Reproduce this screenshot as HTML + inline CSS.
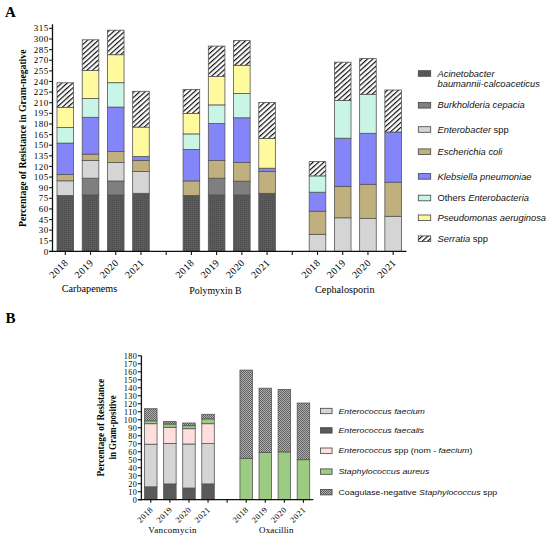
<!DOCTYPE html>
<html><head><meta charset="utf-8"><style>
html,body{margin:0;padding:0;background:#fff;}
svg{display:block;}
</style></head><body>
<svg width="550" height="539" viewBox="0 0 550 539">
<rect width="550" height="539" fill="#fff"/>
<defs>
<pattern id="hatch" patternUnits="userSpaceOnUse" width="3.66" height="3.66" patternTransform="rotate(-42)"><rect width="3.66" height="3.66" fill="#fff"/><rect y="0" width="3.66" height="1.2" fill="#111"/></pattern>
<pattern id="dots" patternUnits="userSpaceOnUse" width="2" height="2"><rect width="2" height="2" fill="#5b5b5b"/><rect width="1" height="1" fill="#4b4b4b"/></pattern>
<pattern id="checker" patternUnits="userSpaceOnUse" width="2" height="2"><rect width="2" height="2" fill="#b0b0b0"/><rect width="1" height="1" fill="#606060"/><rect x="1" y="1" width="1" height="1" fill="#606060"/></pattern>
</defs>
<rect x="57.00" y="195.50" width="16.60" height="55.90" fill="url(#dots)" stroke="#555" stroke-width="0.8"/>
<rect x="57.00" y="180.80" width="16.60" height="14.70" fill="#d5d5d5" stroke="#555" stroke-width="0.8"/>
<rect x="57.00" y="174.50" width="16.60" height="6.30" fill="#bfb07d" stroke="#555" stroke-width="0.8"/>
<rect x="57.00" y="143.10" width="16.60" height="31.40" fill="#8585fa" stroke="#555" stroke-width="0.8"/>
<rect x="57.00" y="127.60" width="16.60" height="15.50" fill="#c8f5e6" stroke="#555" stroke-width="0.8"/>
<rect x="57.00" y="107.30" width="16.60" height="20.30" fill="#fffa9e" stroke="#555" stroke-width="0.8"/>
<rect x="57.00" y="82.80" width="16.60" height="24.50" fill="url(#hatch)" stroke="#555" stroke-width="0.8"/>
<rect x="82.22" y="194.90" width="16.60" height="56.50" fill="url(#dots)" stroke="#555" stroke-width="0.8"/>
<rect x="82.22" y="178.20" width="16.60" height="16.70" fill="#7f7f7f" stroke="#555" stroke-width="0.8"/>
<rect x="82.22" y="160.50" width="16.60" height="17.70" fill="#d5d5d5" stroke="#555" stroke-width="0.8"/>
<rect x="82.22" y="154.10" width="16.60" height="6.40" fill="#bfb07d" stroke="#555" stroke-width="0.8"/>
<rect x="82.22" y="117.30" width="16.60" height="36.80" fill="#8585fa" stroke="#555" stroke-width="0.8"/>
<rect x="82.22" y="98.50" width="16.60" height="18.80" fill="#c8f5e6" stroke="#555" stroke-width="0.8"/>
<rect x="82.22" y="70.60" width="16.60" height="27.90" fill="#fffa9e" stroke="#555" stroke-width="0.8"/>
<rect x="82.22" y="39.80" width="16.60" height="30.80" fill="url(#hatch)" stroke="#555" stroke-width="0.8"/>
<rect x="107.44" y="194.90" width="16.60" height="56.50" fill="url(#dots)" stroke="#555" stroke-width="0.8"/>
<rect x="107.44" y="181.00" width="16.60" height="13.90" fill="#7f7f7f" stroke="#555" stroke-width="0.8"/>
<rect x="107.44" y="162.50" width="16.60" height="18.50" fill="#d5d5d5" stroke="#555" stroke-width="0.8"/>
<rect x="107.44" y="151.60" width="16.60" height="10.90" fill="#bfb07d" stroke="#555" stroke-width="0.8"/>
<rect x="107.44" y="107.10" width="16.60" height="44.50" fill="#8585fa" stroke="#555" stroke-width="0.8"/>
<rect x="107.44" y="82.70" width="16.60" height="24.40" fill="#c8f5e6" stroke="#555" stroke-width="0.8"/>
<rect x="107.44" y="54.70" width="16.60" height="28.00" fill="#fffa9e" stroke="#555" stroke-width="0.8"/>
<rect x="107.44" y="30.20" width="16.60" height="24.50" fill="url(#hatch)" stroke="#555" stroke-width="0.8"/>
<rect x="132.66" y="193.30" width="16.60" height="58.10" fill="url(#dots)" stroke="#555" stroke-width="0.8"/>
<rect x="132.66" y="171.40" width="16.60" height="21.90" fill="#d5d5d5" stroke="#555" stroke-width="0.8"/>
<rect x="132.66" y="160.50" width="16.60" height="10.90" fill="#bfb07d" stroke="#555" stroke-width="0.8"/>
<rect x="132.66" y="156.40" width="16.60" height="4.10" fill="#8585fa" stroke="#555" stroke-width="0.8"/>
<rect x="132.66" y="127.10" width="16.60" height="29.30" fill="#fffa9e" stroke="#555" stroke-width="0.8"/>
<rect x="132.66" y="91.30" width="16.60" height="35.80" fill="url(#hatch)" stroke="#555" stroke-width="0.8"/>
<rect x="183.10" y="195.40" width="16.60" height="56.00" fill="url(#dots)" stroke="#555" stroke-width="0.8"/>
<rect x="183.10" y="180.90" width="16.60" height="14.50" fill="#bfb07d" stroke="#555" stroke-width="0.8"/>
<rect x="183.10" y="149.40" width="16.60" height="31.50" fill="#8585fa" stroke="#555" stroke-width="0.8"/>
<rect x="183.10" y="133.90" width="16.60" height="15.50" fill="#c8f5e6" stroke="#555" stroke-width="0.8"/>
<rect x="183.10" y="113.50" width="16.60" height="20.40" fill="#fffa9e" stroke="#555" stroke-width="0.8"/>
<rect x="183.10" y="89.40" width="16.60" height="24.10" fill="url(#hatch)" stroke="#555" stroke-width="0.8"/>
<rect x="208.32" y="194.90" width="16.60" height="56.50" fill="url(#dots)" stroke="#555" stroke-width="0.8"/>
<rect x="208.32" y="178.20" width="16.60" height="16.70" fill="#7f7f7f" stroke="#555" stroke-width="0.8"/>
<rect x="208.32" y="160.60" width="16.60" height="17.60" fill="#bfb07d" stroke="#555" stroke-width="0.8"/>
<rect x="208.32" y="123.50" width="16.60" height="37.10" fill="#8585fa" stroke="#555" stroke-width="0.8"/>
<rect x="208.32" y="104.90" width="16.60" height="18.60" fill="#c8f5e6" stroke="#555" stroke-width="0.8"/>
<rect x="208.32" y="76.50" width="16.60" height="28.40" fill="#fffa9e" stroke="#555" stroke-width="0.8"/>
<rect x="208.32" y="46.10" width="16.60" height="30.40" fill="url(#hatch)" stroke="#555" stroke-width="0.8"/>
<rect x="233.54" y="194.90" width="16.60" height="56.50" fill="url(#dots)" stroke="#555" stroke-width="0.8"/>
<rect x="233.54" y="181.20" width="16.60" height="13.70" fill="#7f7f7f" stroke="#555" stroke-width="0.8"/>
<rect x="233.54" y="162.50" width="16.60" height="18.70" fill="#bfb07d" stroke="#555" stroke-width="0.8"/>
<rect x="233.54" y="117.80" width="16.60" height="44.70" fill="#8585fa" stroke="#555" stroke-width="0.8"/>
<rect x="233.54" y="93.50" width="16.60" height="24.30" fill="#c8f5e6" stroke="#555" stroke-width="0.8"/>
<rect x="233.54" y="65.30" width="16.60" height="28.20" fill="#fffa9e" stroke="#555" stroke-width="0.8"/>
<rect x="233.54" y="40.60" width="16.60" height="24.70" fill="url(#hatch)" stroke="#555" stroke-width="0.8"/>
<rect x="258.76" y="193.30" width="16.60" height="58.10" fill="url(#dots)" stroke="#555" stroke-width="0.8"/>
<rect x="258.76" y="171.40" width="16.60" height="21.90" fill="#bfb07d" stroke="#555" stroke-width="0.8"/>
<rect x="258.76" y="168.20" width="16.60" height="3.20" fill="#8585fa" stroke="#555" stroke-width="0.8"/>
<rect x="258.76" y="138.40" width="16.60" height="29.80" fill="#fffa9e" stroke="#555" stroke-width="0.8"/>
<rect x="258.76" y="102.50" width="16.60" height="35.90" fill="url(#hatch)" stroke="#555" stroke-width="0.8"/>
<rect x="309.20" y="234.30" width="16.60" height="17.10" fill="#d5d5d5" stroke="#555" stroke-width="0.8"/>
<rect x="309.20" y="211.20" width="16.60" height="23.10" fill="#bfb07d" stroke="#555" stroke-width="0.8"/>
<rect x="309.20" y="192.20" width="16.60" height="19.00" fill="#8585fa" stroke="#555" stroke-width="0.8"/>
<rect x="309.20" y="175.90" width="16.60" height="16.30" fill="#c8f5e6" stroke="#555" stroke-width="0.8"/>
<rect x="309.20" y="161.60" width="16.60" height="14.30" fill="url(#hatch)" stroke="#555" stroke-width="0.8"/>
<rect x="334.42" y="217.80" width="16.60" height="33.60" fill="#d5d5d5" stroke="#555" stroke-width="0.8"/>
<rect x="334.42" y="186.30" width="16.60" height="31.50" fill="#bfb07d" stroke="#555" stroke-width="0.8"/>
<rect x="334.42" y="138.20" width="16.60" height="48.10" fill="#8585fa" stroke="#555" stroke-width="0.8"/>
<rect x="334.42" y="100.40" width="16.60" height="37.80" fill="#c8f5e6" stroke="#555" stroke-width="0.8"/>
<rect x="334.42" y="62.20" width="16.60" height="38.20" fill="url(#hatch)" stroke="#555" stroke-width="0.8"/>
<rect x="359.64" y="218.60" width="16.60" height="32.80" fill="#d5d5d5" stroke="#555" stroke-width="0.8"/>
<rect x="359.64" y="184.30" width="16.60" height="34.30" fill="#bfb07d" stroke="#555" stroke-width="0.8"/>
<rect x="359.64" y="133.30" width="16.60" height="51.00" fill="#8585fa" stroke="#555" stroke-width="0.8"/>
<rect x="359.64" y="94.30" width="16.60" height="39.00" fill="#c8f5e6" stroke="#555" stroke-width="0.8"/>
<rect x="359.64" y="58.60" width="16.60" height="35.70" fill="url(#hatch)" stroke="#555" stroke-width="0.8"/>
<rect x="384.86" y="216.30" width="16.60" height="35.10" fill="#d5d5d5" stroke="#555" stroke-width="0.8"/>
<rect x="384.86" y="182.20" width="16.60" height="34.10" fill="#bfb07d" stroke="#555" stroke-width="0.8"/>
<rect x="384.86" y="132.00" width="16.60" height="50.20" fill="#8585fa" stroke="#555" stroke-width="0.8"/>
<rect x="384.86" y="90.00" width="16.60" height="42.00" fill="url(#hatch)" stroke="#555" stroke-width="0.8"/>
<line x1="52.50" y1="24.30" x2="52.50" y2="252.00" stroke="#111" stroke-width="1.3"/>
<line x1="49.00" y1="251.40" x2="406.50" y2="251.40" stroke="#111" stroke-width="1.3"/>
<line x1="49.20" y1="251.40" x2="52.50" y2="251.40" stroke="#111" stroke-width="1.1"/>
<text x="48.60" y="254.50" font-family="Liberation Serif" font-size="9" font-weight="normal" font-style="normal" text-anchor="end" fill="#000" letter-spacing="0.45">0</text>
<line x1="49.20" y1="240.78" x2="52.50" y2="240.78" stroke="#111" stroke-width="1.1"/>
<text x="48.60" y="243.88" font-family="Liberation Serif" font-size="9" font-weight="normal" font-style="normal" text-anchor="end" fill="#000" letter-spacing="0.45">15</text>
<line x1="49.20" y1="230.16" x2="52.50" y2="230.16" stroke="#111" stroke-width="1.1"/>
<text x="48.60" y="233.26" font-family="Liberation Serif" font-size="9" font-weight="normal" font-style="normal" text-anchor="end" fill="#000" letter-spacing="0.45">30</text>
<line x1="49.20" y1="219.54" x2="52.50" y2="219.54" stroke="#111" stroke-width="1.1"/>
<text x="48.60" y="222.64" font-family="Liberation Serif" font-size="9" font-weight="normal" font-style="normal" text-anchor="end" fill="#000" letter-spacing="0.45">45</text>
<line x1="49.20" y1="208.92" x2="52.50" y2="208.92" stroke="#111" stroke-width="1.1"/>
<text x="48.60" y="212.02" font-family="Liberation Serif" font-size="9" font-weight="normal" font-style="normal" text-anchor="end" fill="#000" letter-spacing="0.45">60</text>
<line x1="49.20" y1="198.30" x2="52.50" y2="198.30" stroke="#111" stroke-width="1.1"/>
<text x="48.60" y="201.40" font-family="Liberation Serif" font-size="9" font-weight="normal" font-style="normal" text-anchor="end" fill="#000" letter-spacing="0.45">75</text>
<line x1="49.20" y1="187.68" x2="52.50" y2="187.68" stroke="#111" stroke-width="1.1"/>
<text x="48.60" y="190.78" font-family="Liberation Serif" font-size="9" font-weight="normal" font-style="normal" text-anchor="end" fill="#000" letter-spacing="0.45">90</text>
<line x1="49.20" y1="177.06" x2="52.50" y2="177.06" stroke="#111" stroke-width="1.1"/>
<text x="48.60" y="180.16" font-family="Liberation Serif" font-size="9" font-weight="normal" font-style="normal" text-anchor="end" fill="#000" letter-spacing="0.45">105</text>
<line x1="49.20" y1="166.44" x2="52.50" y2="166.44" stroke="#111" stroke-width="1.1"/>
<text x="48.60" y="169.54" font-family="Liberation Serif" font-size="9" font-weight="normal" font-style="normal" text-anchor="end" fill="#000" letter-spacing="0.45">120</text>
<line x1="49.20" y1="155.82" x2="52.50" y2="155.82" stroke="#111" stroke-width="1.1"/>
<text x="48.60" y="158.92" font-family="Liberation Serif" font-size="9" font-weight="normal" font-style="normal" text-anchor="end" fill="#000" letter-spacing="0.45">135</text>
<line x1="49.20" y1="145.20" x2="52.50" y2="145.20" stroke="#111" stroke-width="1.1"/>
<text x="48.60" y="148.30" font-family="Liberation Serif" font-size="9" font-weight="normal" font-style="normal" text-anchor="end" fill="#000" letter-spacing="0.45">150</text>
<line x1="49.20" y1="134.58" x2="52.50" y2="134.58" stroke="#111" stroke-width="1.1"/>
<text x="48.60" y="137.68" font-family="Liberation Serif" font-size="9" font-weight="normal" font-style="normal" text-anchor="end" fill="#000" letter-spacing="0.45">165</text>
<line x1="49.20" y1="123.96" x2="52.50" y2="123.96" stroke="#111" stroke-width="1.1"/>
<text x="48.60" y="127.06" font-family="Liberation Serif" font-size="9" font-weight="normal" font-style="normal" text-anchor="end" fill="#000" letter-spacing="0.45">180</text>
<line x1="49.20" y1="113.34" x2="52.50" y2="113.34" stroke="#111" stroke-width="1.1"/>
<text x="48.60" y="116.44" font-family="Liberation Serif" font-size="9" font-weight="normal" font-style="normal" text-anchor="end" fill="#000" letter-spacing="0.45">195</text>
<line x1="49.20" y1="102.72" x2="52.50" y2="102.72" stroke="#111" stroke-width="1.1"/>
<text x="48.60" y="105.82" font-family="Liberation Serif" font-size="9" font-weight="normal" font-style="normal" text-anchor="end" fill="#000" letter-spacing="0.45">210</text>
<line x1="49.20" y1="92.10" x2="52.50" y2="92.10" stroke="#111" stroke-width="1.1"/>
<text x="48.60" y="95.20" font-family="Liberation Serif" font-size="9" font-weight="normal" font-style="normal" text-anchor="end" fill="#000" letter-spacing="0.45">225</text>
<line x1="49.20" y1="81.48" x2="52.50" y2="81.48" stroke="#111" stroke-width="1.1"/>
<text x="48.60" y="84.58" font-family="Liberation Serif" font-size="9" font-weight="normal" font-style="normal" text-anchor="end" fill="#000" letter-spacing="0.45">240</text>
<line x1="49.20" y1="70.86" x2="52.50" y2="70.86" stroke="#111" stroke-width="1.1"/>
<text x="48.60" y="73.96" font-family="Liberation Serif" font-size="9" font-weight="normal" font-style="normal" text-anchor="end" fill="#000" letter-spacing="0.45">255</text>
<line x1="49.20" y1="60.24" x2="52.50" y2="60.24" stroke="#111" stroke-width="1.1"/>
<text x="48.60" y="63.34" font-family="Liberation Serif" font-size="9" font-weight="normal" font-style="normal" text-anchor="end" fill="#000" letter-spacing="0.45">270</text>
<line x1="49.20" y1="49.62" x2="52.50" y2="49.62" stroke="#111" stroke-width="1.1"/>
<text x="48.60" y="52.72" font-family="Liberation Serif" font-size="9" font-weight="normal" font-style="normal" text-anchor="end" fill="#000" letter-spacing="0.45">285</text>
<line x1="49.20" y1="39.00" x2="52.50" y2="39.00" stroke="#111" stroke-width="1.1"/>
<text x="48.60" y="42.10" font-family="Liberation Serif" font-size="9" font-weight="normal" font-style="normal" text-anchor="end" fill="#000" letter-spacing="0.45">300</text>
<line x1="49.20" y1="28.38" x2="52.50" y2="28.38" stroke="#111" stroke-width="1.1"/>
<text x="48.60" y="31.48" font-family="Liberation Serif" font-size="9" font-weight="normal" font-style="normal" text-anchor="end" fill="#000" letter-spacing="0.45">315</text>
<line x1="65.30" y1="251.40" x2="65.30" y2="254.90" stroke="#111" stroke-width="1.1"/>
<line x1="90.52" y1="251.40" x2="90.52" y2="254.90" stroke="#111" stroke-width="1.1"/>
<line x1="115.74" y1="251.40" x2="115.74" y2="254.90" stroke="#111" stroke-width="1.1"/>
<line x1="140.96" y1="251.40" x2="140.96" y2="254.90" stroke="#111" stroke-width="1.1"/>
<line x1="166.18" y1="251.40" x2="166.18" y2="254.90" stroke="#111" stroke-width="1.1"/>
<line x1="191.40" y1="251.40" x2="191.40" y2="254.90" stroke="#111" stroke-width="1.1"/>
<line x1="216.62" y1="251.40" x2="216.62" y2="254.90" stroke="#111" stroke-width="1.1"/>
<line x1="241.84" y1="251.40" x2="241.84" y2="254.90" stroke="#111" stroke-width="1.1"/>
<line x1="267.06" y1="251.40" x2="267.06" y2="254.90" stroke="#111" stroke-width="1.1"/>
<line x1="292.28" y1="251.40" x2="292.28" y2="254.90" stroke="#111" stroke-width="1.1"/>
<line x1="317.50" y1="251.40" x2="317.50" y2="254.90" stroke="#111" stroke-width="1.1"/>
<line x1="342.72" y1="251.40" x2="342.72" y2="254.90" stroke="#111" stroke-width="1.1"/>
<line x1="367.94" y1="251.40" x2="367.94" y2="254.90" stroke="#111" stroke-width="1.1"/>
<line x1="393.16" y1="251.40" x2="393.16" y2="254.90" stroke="#111" stroke-width="1.1"/>
<text x="68.90" y="263.30" font-family="Liberation Serif" font-size="10" font-weight="normal" font-style="normal" text-anchor="end" fill="#000" letter-spacing="0.5" transform="rotate(-45 68.90 263.3)">2018</text>
<text x="94.12" y="263.30" font-family="Liberation Serif" font-size="10" font-weight="normal" font-style="normal" text-anchor="end" fill="#000" letter-spacing="0.5" transform="rotate(-45 94.12 263.3)">2019</text>
<text x="119.34" y="263.30" font-family="Liberation Serif" font-size="10" font-weight="normal" font-style="normal" text-anchor="end" fill="#000" letter-spacing="0.5" transform="rotate(-45 119.34 263.3)">2020</text>
<text x="144.56" y="263.30" font-family="Liberation Serif" font-size="10" font-weight="normal" font-style="normal" text-anchor="end" fill="#000" letter-spacing="0.5" transform="rotate(-45 144.56 263.3)">2021</text>
<text x="195.00" y="263.30" font-family="Liberation Serif" font-size="10" font-weight="normal" font-style="normal" text-anchor="end" fill="#000" letter-spacing="0.5" transform="rotate(-45 195.00 263.3)">2018</text>
<text x="220.22" y="263.30" font-family="Liberation Serif" font-size="10" font-weight="normal" font-style="normal" text-anchor="end" fill="#000" letter-spacing="0.5" transform="rotate(-45 220.22 263.3)">2019</text>
<text x="245.44" y="263.30" font-family="Liberation Serif" font-size="10" font-weight="normal" font-style="normal" text-anchor="end" fill="#000" letter-spacing="0.5" transform="rotate(-45 245.44 263.3)">2020</text>
<text x="270.66" y="263.30" font-family="Liberation Serif" font-size="10" font-weight="normal" font-style="normal" text-anchor="end" fill="#000" letter-spacing="0.5" transform="rotate(-45 270.66 263.3)">2021</text>
<text x="321.10" y="263.30" font-family="Liberation Serif" font-size="10" font-weight="normal" font-style="normal" text-anchor="end" fill="#000" letter-spacing="0.5" transform="rotate(-45 321.10 263.3)">2018</text>
<text x="346.32" y="263.30" font-family="Liberation Serif" font-size="10" font-weight="normal" font-style="normal" text-anchor="end" fill="#000" letter-spacing="0.5" transform="rotate(-45 346.32 263.3)">2019</text>
<text x="371.54" y="263.30" font-family="Liberation Serif" font-size="10" font-weight="normal" font-style="normal" text-anchor="end" fill="#000" letter-spacing="0.5" transform="rotate(-45 371.54 263.3)">2020</text>
<text x="396.76" y="263.30" font-family="Liberation Serif" font-size="10" font-weight="normal" font-style="normal" text-anchor="end" fill="#000" letter-spacing="0.5" transform="rotate(-45 396.76 263.3)">2021</text>
<text x="89.50" y="292.40" font-family="Liberation Serif" font-size="10.2" font-weight="normal" font-style="normal" text-anchor="middle" fill="#000" >Carbapenems</text>
<text x="215.50" y="293.60" font-family="Liberation Serif" font-size="9.9" font-weight="normal" font-style="normal" text-anchor="middle" fill="#000" >Polymyxin B</text>
<text x="344.80" y="292.80" font-family="Liberation Serif" font-size="10.2" font-weight="normal" font-style="normal" text-anchor="middle" fill="#000" >Cephalosporin</text>
<text x="5.00" y="16.50" font-family="Liberation Serif" font-size="15" font-weight="bold" font-style="normal" text-anchor="start" fill="#000" >A</text>
<text x="25.90" y="138.30" font-family="Liberation Serif" font-size="10.8" font-weight="bold" font-style="normal" text-anchor="middle" fill="#000" textLength="177.5" lengthAdjust="spacingAndGlyphs" transform="rotate(-90 25.9 138.3)">Percentage of Resistance in Gram-negative</text>
<rect x="418.30" y="70.70" width="12.40" height="5.60" fill="url(#dots)" stroke="#444" stroke-width="0.8"/>
<g transform="translate(437.5 76.60) scale(1.115 1)">
<text x="0.00" y="0.00" font-family="Liberation Sans" font-size="8.4" font-weight="normal" font-style="normal" text-anchor="start" fill="#111" ><tspan font-style="italic">Acinetobacter</tspan></text>
</g>
<g transform="translate(437.5 87.10) scale(1.115 1)">
<text x="0.00" y="0.00" font-family="Liberation Sans" font-size="8.4" font-weight="normal" font-style="normal" text-anchor="start" fill="#111" ><tspan font-style="italic">baumannii-calcoaceticus</tspan></text>
</g>
<rect x="418.30" y="102.50" width="12.40" height="5.60" fill="#7f7f7f" stroke="#444" stroke-width="0.8"/>
<g transform="translate(437.5 108.40) scale(1.115 1)">
<text x="0.00" y="0.00" font-family="Liberation Sans" font-size="8.4" font-weight="normal" font-style="normal" text-anchor="start" fill="#111" ><tspan font-style="italic">Burkholderia cepacia</tspan></text>
</g>
<rect x="418.30" y="126.70" width="12.40" height="5.60" fill="#d5d5d5" stroke="#444" stroke-width="0.8"/>
<g transform="translate(437.5 132.60) scale(1.115 1)">
<text x="0.00" y="0.00" font-family="Liberation Sans" font-size="8.4" font-weight="normal" font-style="normal" text-anchor="start" fill="#111" ><tspan font-style="italic">Enterobacter</tspan> spp</text>
</g>
<rect x="418.30" y="148.90" width="12.40" height="5.60" fill="#bfb07d" stroke="#444" stroke-width="0.8"/>
<g transform="translate(437.5 154.80) scale(1.115 1)">
<text x="0.00" y="0.00" font-family="Liberation Sans" font-size="8.4" font-weight="normal" font-style="normal" text-anchor="start" fill="#111" ><tspan font-style="italic">Escherichia coli</tspan></text>
</g>
<rect x="418.30" y="173.60" width="12.40" height="5.60" fill="#8585fa" stroke="#444" stroke-width="0.8"/>
<g transform="translate(437.5 179.50) scale(1.115 1)">
<text x="0.00" y="0.00" font-family="Liberation Sans" font-size="8.4" font-weight="normal" font-style="normal" text-anchor="start" fill="#111" ><tspan font-style="italic">Klebsiella pneumoniae</tspan></text>
</g>
<rect x="418.30" y="195.20" width="12.40" height="5.60" fill="#c8f5e6" stroke="#444" stroke-width="0.8"/>
<g transform="translate(437.5 201.10) scale(1.115 1)">
<text x="0.00" y="0.00" font-family="Liberation Sans" font-size="8.4" font-weight="normal" font-style="normal" text-anchor="start" fill="#111" >Others <tspan font-style="italic">Enterobacteria</tspan></text>
</g>
<rect x="418.30" y="215.00" width="12.40" height="5.60" fill="#fffa9e" stroke="#444" stroke-width="0.8"/>
<g transform="translate(437.5 220.90) scale(1.115 1)">
<text x="0.00" y="0.00" font-family="Liberation Sans" font-size="8.4" font-weight="normal" font-style="normal" text-anchor="start" fill="#111" ><tspan font-style="italic">Pseudomonas aeruginosa</tspan></text>
</g>
<rect x="418.30" y="235.90" width="12.40" height="5.60" fill="url(#hatch)" stroke="#444" stroke-width="0.8"/>
<g transform="translate(437.5 241.80) scale(1.115 1)">
<text x="0.00" y="0.00" font-family="Liberation Sans" font-size="8.4" font-weight="normal" font-style="normal" text-anchor="start" fill="#111" ><tspan font-style="italic">Serratia</tspan> spp</text>
</g>
<rect x="144.55" y="486.80" width="12.50" height="12.90" fill="#5a5a5a" stroke="#555" stroke-width="0.8"/>
<rect x="144.55" y="444.20" width="12.50" height="42.60" fill="#d5d5d5" stroke="#555" stroke-width="0.8"/>
<rect x="144.55" y="423.70" width="12.50" height="20.50" fill="#ffdede" stroke="#555" stroke-width="0.8"/>
<rect x="144.55" y="420.80" width="12.50" height="2.90" fill="#9ccc82" stroke="#555" stroke-width="0.8"/>
<rect x="144.55" y="408.70" width="12.50" height="12.10" fill="url(#checker)" stroke="#555" stroke-width="0.8"/>
<rect x="163.63" y="483.90" width="12.50" height="15.80" fill="#5a5a5a" stroke="#555" stroke-width="0.8"/>
<rect x="163.63" y="443.40" width="12.50" height="40.50" fill="#d5d5d5" stroke="#555" stroke-width="0.8"/>
<rect x="163.63" y="427.30" width="12.50" height="16.10" fill="#ffdede" stroke="#555" stroke-width="0.8"/>
<rect x="163.63" y="424.00" width="12.50" height="3.30" fill="#9ccc82" stroke="#555" stroke-width="0.8"/>
<rect x="163.63" y="421.40" width="12.50" height="2.60" fill="url(#checker)" stroke="#555" stroke-width="0.8"/>
<rect x="182.71" y="488.00" width="12.50" height="11.70" fill="#5a5a5a" stroke="#555" stroke-width="0.8"/>
<rect x="182.71" y="444.00" width="12.50" height="44.00" fill="#d5d5d5" stroke="#555" stroke-width="0.8"/>
<rect x="182.71" y="428.70" width="12.50" height="15.30" fill="#ffdede" stroke="#555" stroke-width="0.8"/>
<rect x="182.71" y="425.70" width="12.50" height="3.00" fill="#9ccc82" stroke="#555" stroke-width="0.8"/>
<rect x="182.71" y="423.00" width="12.50" height="2.70" fill="url(#checker)" stroke="#555" stroke-width="0.8"/>
<rect x="201.79" y="483.90" width="12.50" height="15.80" fill="#5a5a5a" stroke="#555" stroke-width="0.8"/>
<rect x="201.79" y="443.60" width="12.50" height="40.30" fill="#d5d5d5" stroke="#555" stroke-width="0.8"/>
<rect x="201.79" y="423.70" width="12.50" height="19.90" fill="#ffdede" stroke="#555" stroke-width="0.8"/>
<rect x="201.79" y="418.90" width="12.50" height="4.80" fill="#9ccc82" stroke="#555" stroke-width="0.8"/>
<rect x="201.79" y="414.30" width="12.50" height="4.60" fill="url(#checker)" stroke="#555" stroke-width="0.8"/>
<rect x="239.95" y="458.30" width="12.50" height="41.40" fill="#9ccc82" stroke="#555" stroke-width="0.8"/>
<rect x="239.95" y="370.10" width="12.50" height="88.20" fill="url(#checker)" stroke="#555" stroke-width="0.8"/>
<rect x="259.03" y="452.50" width="12.50" height="47.20" fill="#9ccc82" stroke="#555" stroke-width="0.8"/>
<rect x="259.03" y="388.20" width="12.50" height="64.30" fill="url(#checker)" stroke="#555" stroke-width="0.8"/>
<rect x="278.11" y="451.90" width="12.50" height="47.80" fill="#9ccc82" stroke="#555" stroke-width="0.8"/>
<rect x="278.11" y="389.50" width="12.50" height="62.40" fill="url(#checker)" stroke="#555" stroke-width="0.8"/>
<rect x="297.19" y="459.70" width="12.50" height="40.00" fill="#9ccc82" stroke="#555" stroke-width="0.8"/>
<rect x="297.19" y="403.00" width="12.50" height="56.70" fill="url(#checker)" stroke="#555" stroke-width="0.8"/>
<line x1="141.40" y1="355.60" x2="141.40" y2="500.30" stroke="#111" stroke-width="1.3"/>
<line x1="138.00" y1="499.70" x2="313.30" y2="499.70" stroke="#111" stroke-width="1.3"/>
<line x1="137.80" y1="499.70" x2="141.40" y2="499.70" stroke="#111" stroke-width="1.1"/>
<text x="137.30" y="503.20" font-family="Liberation Serif" font-size="8.2" font-weight="normal" font-style="normal" text-anchor="end" fill="#000" letter-spacing="0.45">0</text>
<line x1="137.80" y1="491.70" x2="141.40" y2="491.70" stroke="#111" stroke-width="1.1"/>
<text x="137.30" y="495.20" font-family="Liberation Serif" font-size="8.2" font-weight="normal" font-style="normal" text-anchor="end" fill="#000" letter-spacing="0.45">10</text>
<line x1="137.80" y1="483.71" x2="141.40" y2="483.71" stroke="#111" stroke-width="1.1"/>
<text x="137.30" y="487.21" font-family="Liberation Serif" font-size="8.2" font-weight="normal" font-style="normal" text-anchor="end" fill="#000" letter-spacing="0.45">20</text>
<line x1="137.80" y1="475.71" x2="141.40" y2="475.71" stroke="#111" stroke-width="1.1"/>
<text x="137.30" y="479.21" font-family="Liberation Serif" font-size="8.2" font-weight="normal" font-style="normal" text-anchor="end" fill="#000" letter-spacing="0.45">30</text>
<line x1="137.80" y1="467.72" x2="141.40" y2="467.72" stroke="#111" stroke-width="1.1"/>
<text x="137.30" y="471.22" font-family="Liberation Serif" font-size="8.2" font-weight="normal" font-style="normal" text-anchor="end" fill="#000" letter-spacing="0.45">40</text>
<line x1="137.80" y1="459.72" x2="141.40" y2="459.72" stroke="#111" stroke-width="1.1"/>
<text x="137.30" y="463.22" font-family="Liberation Serif" font-size="8.2" font-weight="normal" font-style="normal" text-anchor="end" fill="#000" letter-spacing="0.45">50</text>
<line x1="137.80" y1="451.73" x2="141.40" y2="451.73" stroke="#111" stroke-width="1.1"/>
<text x="137.30" y="455.23" font-family="Liberation Serif" font-size="8.2" font-weight="normal" font-style="normal" text-anchor="end" fill="#000" letter-spacing="0.45">60</text>
<line x1="137.80" y1="443.74" x2="141.40" y2="443.74" stroke="#111" stroke-width="1.1"/>
<text x="137.30" y="447.24" font-family="Liberation Serif" font-size="8.2" font-weight="normal" font-style="normal" text-anchor="end" fill="#000" letter-spacing="0.45">70</text>
<line x1="137.80" y1="435.74" x2="141.40" y2="435.74" stroke="#111" stroke-width="1.1"/>
<text x="137.30" y="439.24" font-family="Liberation Serif" font-size="8.2" font-weight="normal" font-style="normal" text-anchor="end" fill="#000" letter-spacing="0.45">80</text>
<line x1="137.80" y1="427.75" x2="141.40" y2="427.75" stroke="#111" stroke-width="1.1"/>
<text x="137.30" y="431.25" font-family="Liberation Serif" font-size="8.2" font-weight="normal" font-style="normal" text-anchor="end" fill="#000" letter-spacing="0.45">90</text>
<line x1="137.80" y1="419.75" x2="141.40" y2="419.75" stroke="#111" stroke-width="1.1"/>
<text x="137.30" y="423.25" font-family="Liberation Serif" font-size="8.2" font-weight="normal" font-style="normal" text-anchor="end" fill="#000" letter-spacing="0.45">100</text>
<line x1="137.80" y1="411.75" x2="141.40" y2="411.75" stroke="#111" stroke-width="1.1"/>
<text x="137.30" y="415.25" font-family="Liberation Serif" font-size="8.2" font-weight="normal" font-style="normal" text-anchor="end" fill="#000" letter-spacing="0.45">110</text>
<line x1="137.80" y1="403.76" x2="141.40" y2="403.76" stroke="#111" stroke-width="1.1"/>
<text x="137.30" y="407.26" font-family="Liberation Serif" font-size="8.2" font-weight="normal" font-style="normal" text-anchor="end" fill="#000" letter-spacing="0.45">120</text>
<line x1="137.80" y1="395.76" x2="141.40" y2="395.76" stroke="#111" stroke-width="1.1"/>
<text x="137.30" y="399.26" font-family="Liberation Serif" font-size="8.2" font-weight="normal" font-style="normal" text-anchor="end" fill="#000" letter-spacing="0.45">130</text>
<line x1="137.80" y1="387.77" x2="141.40" y2="387.77" stroke="#111" stroke-width="1.1"/>
<text x="137.30" y="391.27" font-family="Liberation Serif" font-size="8.2" font-weight="normal" font-style="normal" text-anchor="end" fill="#000" letter-spacing="0.45">140</text>
<line x1="137.80" y1="379.77" x2="141.40" y2="379.77" stroke="#111" stroke-width="1.1"/>
<text x="137.30" y="383.27" font-family="Liberation Serif" font-size="8.2" font-weight="normal" font-style="normal" text-anchor="end" fill="#000" letter-spacing="0.45">150</text>
<line x1="137.80" y1="371.78" x2="141.40" y2="371.78" stroke="#111" stroke-width="1.1"/>
<text x="137.30" y="375.28" font-family="Liberation Serif" font-size="8.2" font-weight="normal" font-style="normal" text-anchor="end" fill="#000" letter-spacing="0.45">160</text>
<line x1="137.80" y1="363.78" x2="141.40" y2="363.78" stroke="#111" stroke-width="1.1"/>
<text x="137.30" y="367.28" font-family="Liberation Serif" font-size="8.2" font-weight="normal" font-style="normal" text-anchor="end" fill="#000" letter-spacing="0.45">170</text>
<line x1="137.80" y1="355.79" x2="141.40" y2="355.79" stroke="#111" stroke-width="1.1"/>
<text x="137.30" y="359.29" font-family="Liberation Serif" font-size="8.2" font-weight="normal" font-style="normal" text-anchor="end" fill="#000" letter-spacing="0.45">180</text>
<line x1="150.80" y1="499.70" x2="150.80" y2="502.80" stroke="#111" stroke-width="1.1"/>
<line x1="169.88" y1="499.70" x2="169.88" y2="502.80" stroke="#111" stroke-width="1.1"/>
<line x1="188.96" y1="499.70" x2="188.96" y2="502.80" stroke="#111" stroke-width="1.1"/>
<line x1="208.04" y1="499.70" x2="208.04" y2="502.80" stroke="#111" stroke-width="1.1"/>
<line x1="227.12" y1="499.70" x2="227.12" y2="502.80" stroke="#111" stroke-width="1.1"/>
<line x1="246.20" y1="499.70" x2="246.20" y2="502.80" stroke="#111" stroke-width="1.1"/>
<line x1="265.28" y1="499.70" x2="265.28" y2="502.80" stroke="#111" stroke-width="1.1"/>
<line x1="284.36" y1="499.70" x2="284.36" y2="502.80" stroke="#111" stroke-width="1.1"/>
<line x1="303.44" y1="499.70" x2="303.44" y2="502.80" stroke="#111" stroke-width="1.1"/>
<text x="153.60" y="510.30" font-family="Liberation Serif" font-size="8.3" font-weight="normal" font-style="normal" text-anchor="end" fill="#000" letter-spacing="0.45" transform="rotate(-45 153.60 510.3)">2018</text>
<text x="172.68" y="510.30" font-family="Liberation Serif" font-size="8.3" font-weight="normal" font-style="normal" text-anchor="end" fill="#000" letter-spacing="0.45" transform="rotate(-45 172.68 510.3)">2019</text>
<text x="191.76" y="510.30" font-family="Liberation Serif" font-size="8.3" font-weight="normal" font-style="normal" text-anchor="end" fill="#000" letter-spacing="0.45" transform="rotate(-45 191.76 510.3)">2020</text>
<text x="210.84" y="510.30" font-family="Liberation Serif" font-size="8.3" font-weight="normal" font-style="normal" text-anchor="end" fill="#000" letter-spacing="0.45" transform="rotate(-45 210.84 510.3)">2021</text>
<text x="249.00" y="510.30" font-family="Liberation Serif" font-size="8.3" font-weight="normal" font-style="normal" text-anchor="end" fill="#000" letter-spacing="0.45" transform="rotate(-45 249.00 510.3)">2018</text>
<text x="268.08" y="510.30" font-family="Liberation Serif" font-size="8.3" font-weight="normal" font-style="normal" text-anchor="end" fill="#000" letter-spacing="0.45" transform="rotate(-45 268.08 510.3)">2019</text>
<text x="287.16" y="510.30" font-family="Liberation Serif" font-size="8.3" font-weight="normal" font-style="normal" text-anchor="end" fill="#000" letter-spacing="0.45" transform="rotate(-45 287.16 510.3)">2020</text>
<text x="306.24" y="510.30" font-family="Liberation Serif" font-size="8.3" font-weight="normal" font-style="normal" text-anchor="end" fill="#000" letter-spacing="0.45" transform="rotate(-45 306.24 510.3)">2021</text>
<text x="172.60" y="532.70" font-family="Liberation Serif" font-size="9" font-weight="normal" font-style="normal" text-anchor="middle" fill="#000" letter-spacing="0.35">Vancomycin</text>
<text x="276.30" y="532.80" font-family="Liberation Serif" font-size="9" font-weight="normal" font-style="normal" text-anchor="middle" fill="#000" letter-spacing="0.1">Oxacillin</text>
<text x="5.50" y="322.70" font-family="Liberation Serif" font-size="15" font-weight="bold" font-style="normal" text-anchor="start" fill="#000" >B</text>
<text x="104.00" y="427.70" font-family="Liberation Serif" font-size="10.1" font-weight="bold" font-style="normal" text-anchor="middle" fill="#000" textLength="97.8" lengthAdjust="spacingAndGlyphs" transform="rotate(-90 104.0 427.7)">Percentage of Resistance</text>
<text x="116.00" y="427.40" font-family="Liberation Serif" font-size="10.1" font-weight="bold" font-style="normal" text-anchor="middle" fill="#000" textLength="64.2" lengthAdjust="spacingAndGlyphs" transform="rotate(-90 116.0 427.4)">in Gram-positive</text>
<rect x="320.50" y="408.30" width="11.60" height="5.40" fill="#d5d5d5" stroke="#444" stroke-width="0.8"/>
<g transform="translate(338.5 413.60) scale(1.12 1)">
<text x="0.00" y="0.00" font-family="Liberation Sans" font-size="7.85" font-weight="normal" font-style="normal" text-anchor="start" fill="#111" ><tspan font-style="italic">Enterococcus faecium</tspan></text>
</g>
<rect x="320.50" y="427.70" width="11.60" height="5.40" fill="#5a5a5a" stroke="#444" stroke-width="0.8"/>
<g transform="translate(338.5 433.00) scale(1.12 1)">
<text x="0.00" y="0.00" font-family="Liberation Sans" font-size="7.85" font-weight="normal" font-style="normal" text-anchor="start" fill="#111" ><tspan font-style="italic">Enterococcus faecalis</tspan></text>
</g>
<rect x="320.50" y="448.00" width="11.60" height="5.40" fill="#ffdede" stroke="#444" stroke-width="0.8"/>
<g transform="translate(338.5 453.30) scale(1.12 1)">
<text x="0.00" y="0.00" font-family="Liberation Sans" font-size="7.85" font-weight="normal" font-style="normal" text-anchor="start" fill="#111" ><tspan font-style="italic">Enterococcus</tspan> spp (nom - <tspan font-style="italic">faecium</tspan>)</text>
</g>
<rect x="320.50" y="468.90" width="11.60" height="5.40" fill="#9ccc82" stroke="#444" stroke-width="0.8"/>
<g transform="translate(338.5 474.20) scale(1.12 1)">
<text x="0.00" y="0.00" font-family="Liberation Sans" font-size="7.85" font-weight="normal" font-style="normal" text-anchor="start" fill="#111" ><tspan font-style="italic">Staphylococcus aureus</tspan></text>
</g>
<rect x="320.50" y="489.50" width="11.60" height="5.40" fill="url(#checker)" stroke="#444" stroke-width="0.8"/>
<g transform="translate(338.5 494.80) scale(1.12 1)">
<text x="0.00" y="0.00" font-family="Liberation Sans" font-size="7.85" font-weight="normal" font-style="normal" text-anchor="start" fill="#111" >Coagulase-negative <tspan font-style="italic">Staphylococcus</tspan> spp</text>
</g>
</svg>
</body></html>
